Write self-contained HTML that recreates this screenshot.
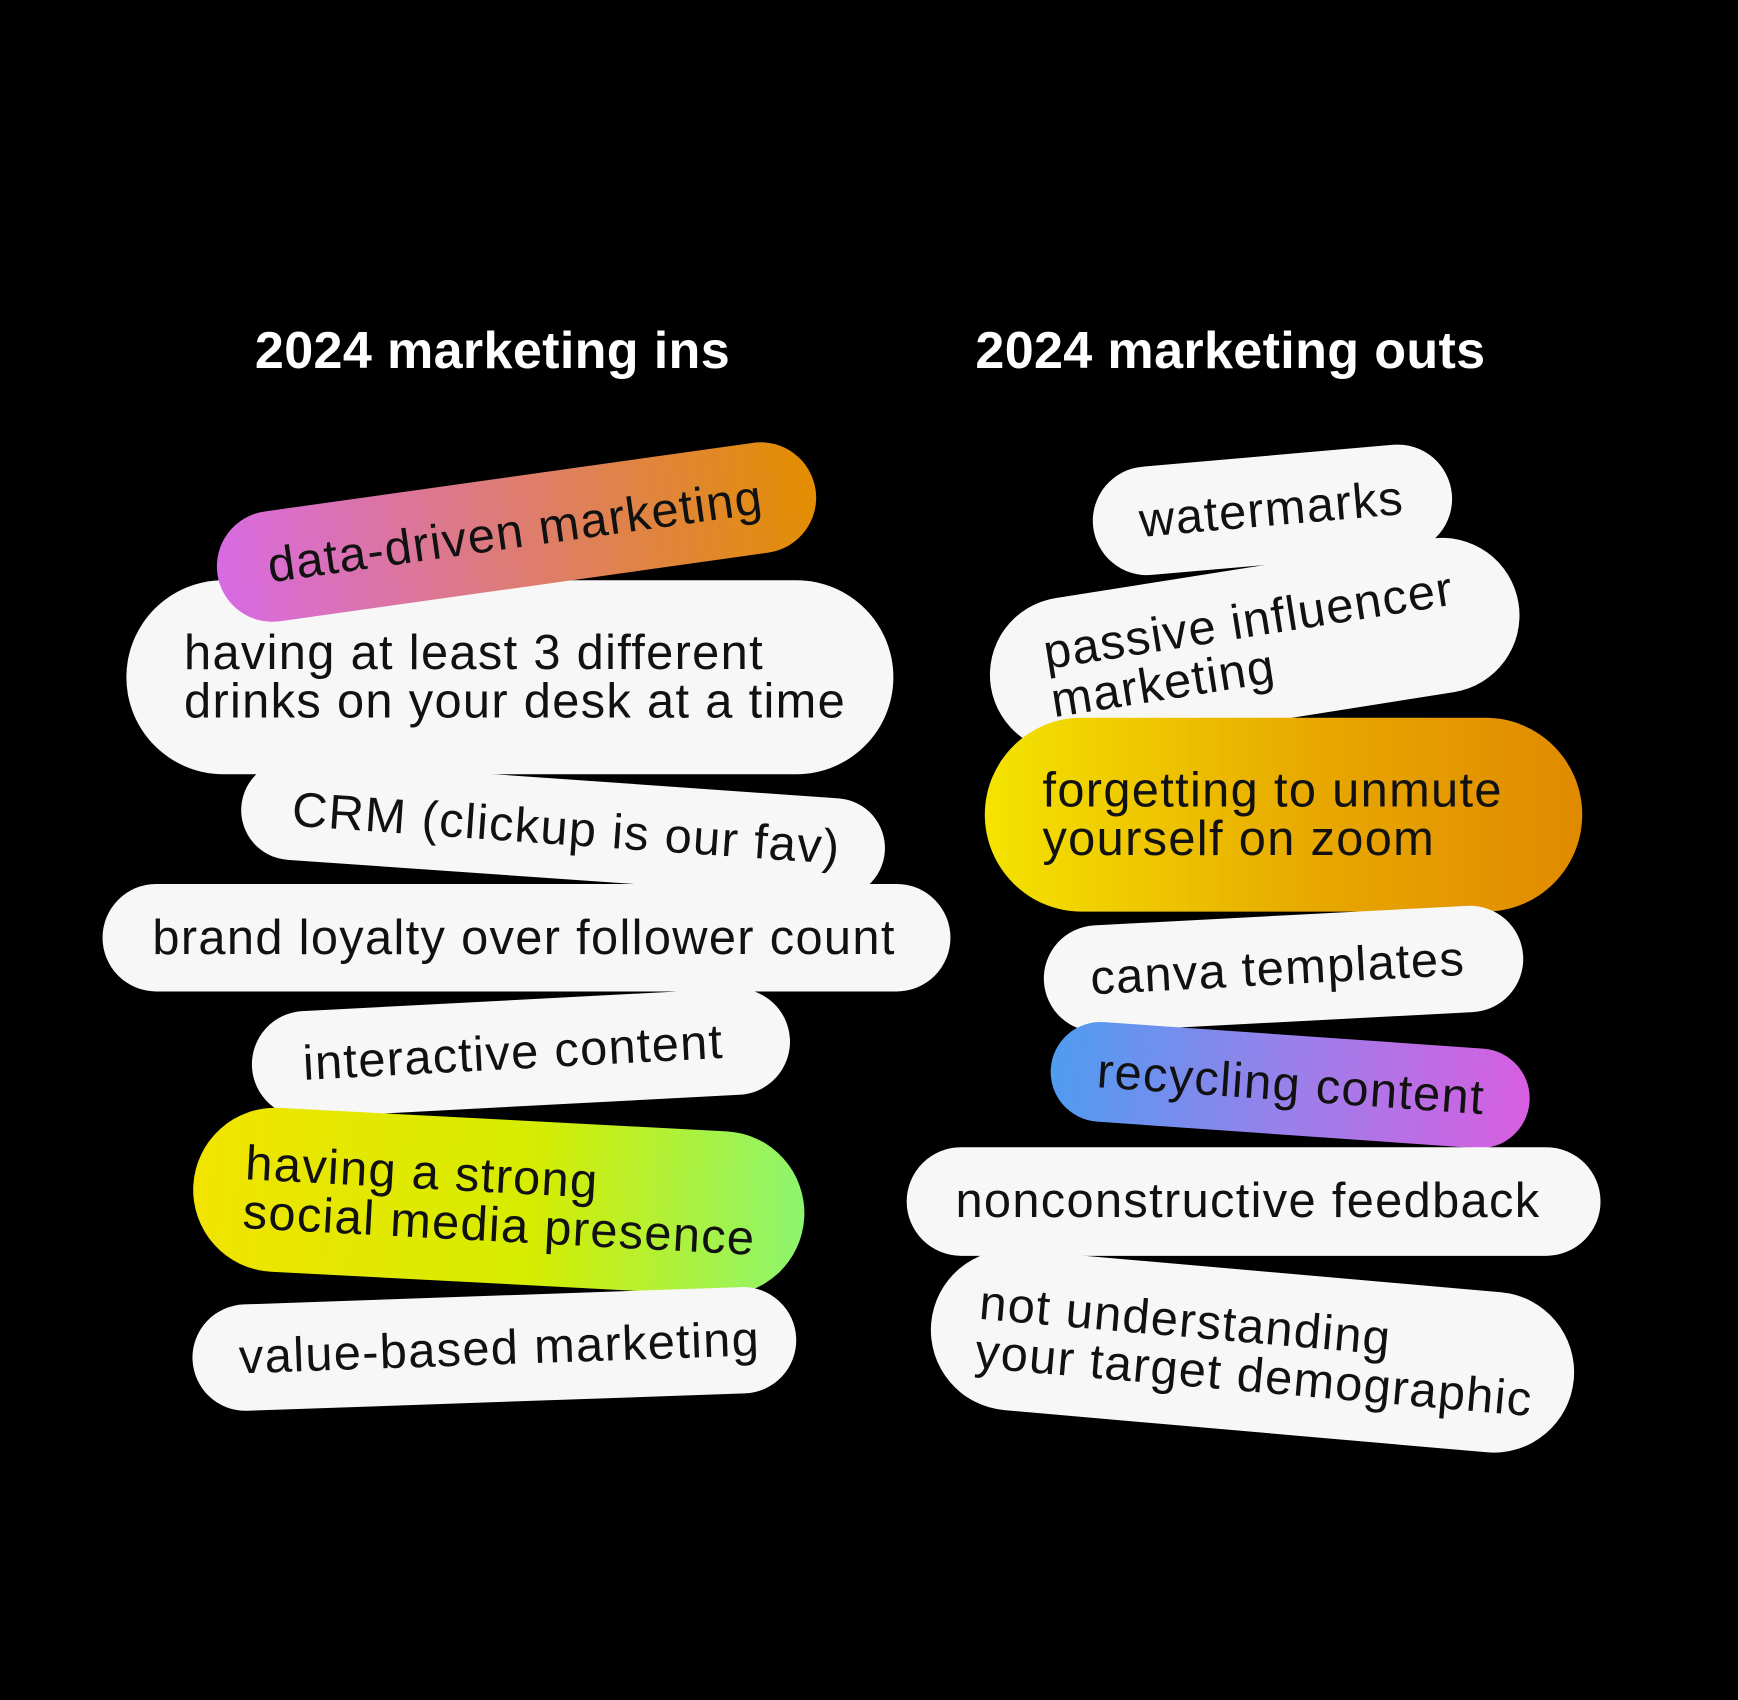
<!DOCTYPE html>
<html><head><meta charset="utf-8"><style>
html,body{margin:0;padding:0;background:#000;}
#wrap{position:relative;width:1738px;height:1700px;overflow:hidden;background:#000;}
#s{position:absolute;left:0;top:0;width:1568px;height:1534px;transform:scale(1.1084);transform-origin:0 0;}
.h{position:absolute;color:#fff;font:bold 47px "Liberation Sans",sans-serif;white-space:nowrap;letter-spacing:0.3px}
.p{position:absolute;background:#f7f7f7;border-radius:999px;font:44px/44px "Liberation Sans",sans-serif;letter-spacing:1.2px;color:#111;display:flex;align-items:center;box-sizing:border-box;padding-left:46px;white-space:nowrap;transform:translate(-50%,-50%) rotate(var(--r));}
</style></head><body><div id="wrap"><div id="s">
<div class="h" style="left:230px;top:288px">2024 marketing ins</div>
<div class="h" style="left:880px;top:288px">2024 marketing outs</div>

<div class="p" style="left:460px;top:611px;width:692px;height:175px;--r:0deg;padding-left:52px">having at least 3 different<br>drinks on your desk at a time</div>
<div class="p" style="left:466px;top:480px;width:545px;height:100px;--r:-8deg;background:linear-gradient(90deg,#d86ae4,#e38e00);">data-driven marketing</div>
<div class="p" style="left:508px;top:748px;width:582px;height:90px;--r:4deg">CRM (clickup is our fav)</div>
<div class="p" style="left:475px;top:846px;width:765px;height:97px;--r:0deg;padding-left:45px">brand loyalty over follower count</div>
<div class="p" style="left:470px;top:950px;width:486px;height:96px;--r:-3deg">interactive content</div>
<div class="p" style="left:450px;top:1084px;width:552px;height:148px;--r:3deg;background:linear-gradient(90deg,#f1e400,#d6ec00 55%,#8cf56e);">having a strong<br>social media presence</div>
<div class="p" style="left:446px;top:1217px;width:545px;height:96px;--r:-2deg;padding-left:42px">value-based marketing</div>

<div class="p" style="left:1148px;top:460px;width:325px;height:98px;--r:-5deg;padding-left:42px">watermarks</div>
<div class="p" style="left:1132px;top:582px;width:482px;height:140px;--r:-9deg;padding-left:52px">passive influencer<br>marketing</div>
<div class="p" style="left:1158px;top:735px;width:539px;height:175px;--r:0deg;padding-left:52px;background:linear-gradient(90deg,#f4e400,#e8a800 55%,#e08a00);">forgetting to unmute<br>yourself on zoom</div>
<div class="p" style="left:1158px;top:874px;width:433px;height:96px;--r:-3deg;padding-left:42px">canva templates</div>
<div class="p" style="left:1164px;top:979px;width:433px;height:90px;--r:4deg;padding-left:42px;background:linear-gradient(90deg,#4e9cf0,#9a80ea 50%,#d85ee0);">recycling content</div>
<div class="p" style="left:1131px;top:1084px;width:626px;height:98px;--r:0deg;padding-left:44px">nonconstructive feedback</div>
<div class="p" style="left:1130px;top:1219px;width:582px;height:145px;--r:5deg;padding-left:42px">not understanding<br>your target demographic</div>
</div></div></body></html>
